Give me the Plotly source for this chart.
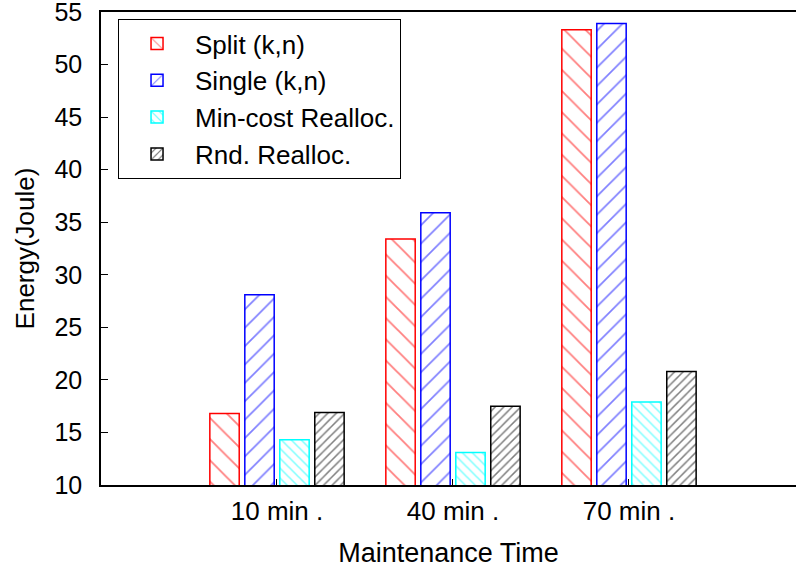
import plotly.graph_objects as go

# Maintenance durations shown on the x axis
categories = ["10 min .", "40 min .", "70 min ."]
x_pos = [0, 1, 2]

# Energy consumption (Joule) for each strategy
split_kn = [16.8, 33.4, 53.3]
single_kn = [28.1, 35.9, 53.9]
mincost_realloc = [14.3, 13.1, 17.9]
rnd_realloc = [16.9, 17.5, 20.8]

series = [
    ("Split (k,n)", split_kn, "#ff0000", "\\", 15, 0.12),
    ("Single (k,n)", single_kn, "#0000ff", "/", 13, 0.13),
    ("Min-cost Realloc.", mincost_realloc, "#00ffff", "\\", 7, 0.22),
    ("Rnd. Realloc.", rnd_realloc, "#000000", "/", 6, 0.25),
]

fig = go.Figure()
for name, vals, color, shape, size, solidity in series:
    fig.add_trace(go.Bar(
        name=name,
        x=x_pos,
        y=vals,
        marker=dict(
            color="white",
            line=dict(color=color, width=1.5),
            pattern=dict(shape=shape, fgcolor=color, bgcolor="white",
                         size=size, solidity=solidity, fillmode="overlay"),
        ),
    ))

font_family = "Liberation Sans, Arial, Helvetica, sans-serif"

fig.update_layout(
    width=796,
    height=573,
    margin=dict(l=101, r=0, t=12, b=88, autoexpand=False),
    paper_bgcolor="white",
    plot_bgcolor="white",
    barmode="group",
    bargap=0.205,
    bargroupgap=0.16,
    font=dict(family=font_family, size=26, color="black"),
    showlegend=True,
    legend=dict(
        x=0.0245, y=0.985, xanchor="left", yanchor="top",
        bordercolor="black", borderwidth=1, bgcolor="white",
        font=dict(size=26, family=font_family),
        tracegroupgap=0,
        itemwidth=66,
    ),
    xaxis=dict(
        range=[-1, 2.949],
        tickvals=x_pos,
        ticktext=categories,
        ticks="inside",
        ticklen=6,
        tickcolor="black",
        showline=True,
        linecolor="black",
        linewidth=1.5,
        mirror=True,
        showgrid=False,
        zeroline=False,
        automargin=False,
        ticklabelstandoff=2,
        title=dict(text="Maintenance Time", font=dict(size=27), standoff=18),
        tickfont=dict(size=26),
    ),
    yaxis=dict(
        range=[10, 55],
        tickvals=[10, 15, 20, 25, 30, 35, 40, 45, 50, 55],
        ticks="inside",
        ticklen=7,
        tickcolor="black",
        showline=True,
        linecolor="black",
        linewidth=1.5,
        mirror=False,
        showgrid=False,
        zeroline=False,
        automargin=False,
        ticklabelstandoff=12,
        ticklabeloverflow="allow",
        title=dict(text="Energy(Joule)", font=dict(size=26), standoff=12),
        tickfont=dict(size=25),
    ),
)

fig.write_html("out.html")
